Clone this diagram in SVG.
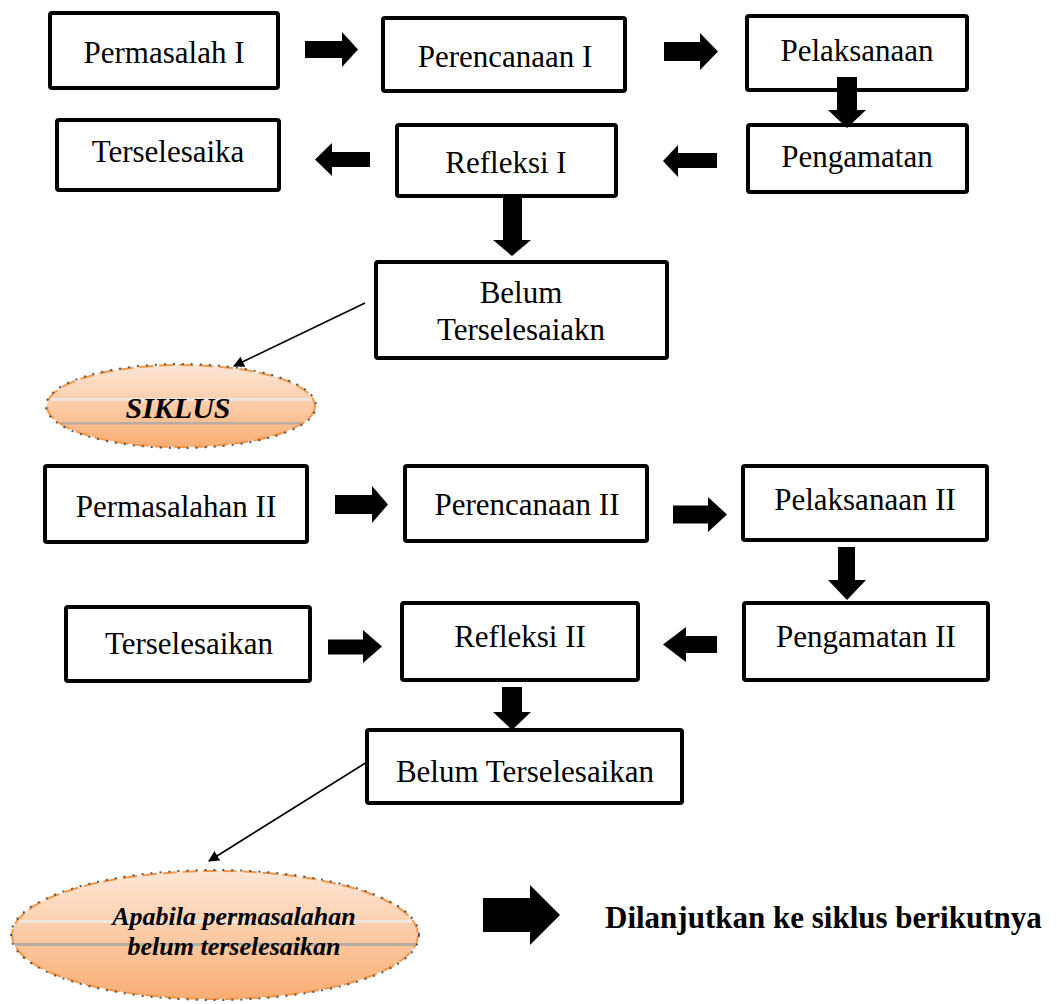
<svg xmlns="http://www.w3.org/2000/svg" width="1057" height="1004" viewBox="0 0 1057 1004">
<style>
.box{fill:#fff;stroke:#000;stroke-width:4}
.t{font-family:"Liberation Serif","Times New Roman",serif;font-size:31px;text-anchor:middle;fill:#000}
.bi{font-family:"Liberation Serif","Times New Roman",serif;font-weight:bold;font-style:italic;text-anchor:middle;fill:#000}
.b{font-family:"Liberation Serif","Times New Roman",serif;font-weight:bold;font-size:31px;fill:#000}
.blk{fill:#000}
.ln{stroke:#000;stroke-width:1.6;fill:none}
.oval{fill:url(#og)}
.ovs{fill:none;stroke:#f79646;stroke-width:2;stroke-dasharray:14 6}
.ovd{fill:none;stroke:#555;stroke-width:2;stroke-dasharray:2 7}
</style>
<defs>
<linearGradient id="og" x1="0" y1="0" x2="0" y2="1">
<stop offset="0" stop-color="#fde6d6"/>
<stop offset="0.5" stop-color="#fccba6"/>
<stop offset="1" stop-color="#f8ad72"/>
</linearGradient>
<marker id="ah" viewBox="0 0 10 10" refX="9" refY="5" markerWidth="11" markerHeight="11" markerUnits="userSpaceOnUse" orient="auto">
<path d="M0,0 L10,5 L0,10 z" fill="#000"/>
</marker>
<clipPath id="c1"><ellipse cx="181" cy="406" rx="134" ry="41"/></clipPath>
<clipPath id="c2"><ellipse cx="215" cy="935" rx="203" ry="64"/></clipPath>
</defs>

<g id="n-permasalah1"><rect class="box" x="50" y="13" width="228" height="75" rx="2"/><text class="t" x="164" y="63">Permasalah I</text></g>
<g id="n-perencanaan1"><rect class="box" x="383" y="18" width="242" height="73" rx="2"/><text class="t" x="505" y="67">Perencanaan I</text></g>
<g id="n-pelaksanaan1"><rect class="box" x="747" y="16" width="220" height="74" rx="2"/><text class="t" x="857" y="61">Pelaksanaan</text></g>
<g id="n-terselesaika"><rect class="box" x="57" y="120" width="222" height="70" rx="2"/><text class="t" x="168" y="162">Terselesaika</text></g>
<g id="n-refleksi1"><rect class="box" x="397" y="125" width="219" height="71" rx="2"/><text class="t" x="506" y="173">Refleksi I</text></g>
<g id="n-pengamatan1"><rect class="box" x="748" y="125" width="219" height="67" rx="2"/><text class="t" x="857" y="167">Pengamatan</text></g>
<g id="n-belum1"><rect class="box" x="376" y="262" width="291" height="96" rx="2"/><text class="t" x="521" y="303">Belum</text><text class="t" x="521" y="340">Terselesaiakn</text></g>

<g id="n-siklus">
<ellipse class="oval" cx="181" cy="406" rx="134" ry="41"/>
<g clip-path="url(#c1)"><rect x="40" y="398" width="290" height="3" fill="#efe6e0"/><rect x="40" y="422" width="290" height="2.5" fill="#b5aca6"/></g>
<ellipse class="ovs" cx="181" cy="406" rx="134" ry="41"/>
<ellipse class="ovd" cx="181" cy="406" rx="135" ry="42" stroke-dashoffset="3"/>
<text class="bi" x="178" y="418" font-size="30">SIKLUS</text>
</g>

<g id="n-permasalahan2"><rect class="box" x="45" y="466" width="262" height="76" rx="2"/><text class="t" x="176" y="517">Permasalahan II</text></g>
<g id="n-perencanaan2"><rect class="box" x="405" y="466" width="242" height="75" rx="2"/><text class="t" x="527" y="515">Perencanaan II</text></g>
<g id="n-pelaksanaan2"><rect class="box" x="743" y="466" width="244" height="74" rx="2"/><text class="t" x="865" y="510">Pelaksanaan II</text></g>
<g id="n-terselesaikan"><rect class="box" x="66" y="607" width="244" height="74" rx="2"/><text class="t" x="189" y="654">Terselesaikan</text></g>
<g id="n-refleksi2"><rect class="box" x="402" y="603" width="236" height="77" rx="2"/><text class="t" x="520" y="647">Refleksi II</text></g>
<g id="n-pengamatan2"><rect class="box" x="744" y="603" width="244" height="77" rx="2"/><text class="t" x="866" y="647">Pengamatan II</text></g>
<g id="n-belum2"><rect class="box" x="367" y="730" width="315" height="73" rx="2"/><text class="t" x="525" y="782">Belum Terselesaikan</text></g>

<g id="n-apabila">
<ellipse class="oval" cx="215" cy="935" rx="203" ry="64"/>
<g clip-path="url(#c2)"><rect x="10" y="920" width="420" height="3" fill="#efe6e0"/><rect x="10" y="943" width="420" height="3" fill="#b5aca6"/></g>
<ellipse class="ovs" cx="215" cy="935" rx="203" ry="64"/>
<ellipse class="ovd" cx="215" cy="935" rx="204" ry="65" stroke-dasharray="3 4"/>
<text class="bi" x="234" y="925" font-size="26">Apabila permasalahan</text>
<text class="bi" x="234" y="955" font-size="26">belum terselesaikan</text>
</g>

<g id="n-dilanjutkan">
<text class="b" x="605" y="928">Dilanjutkan ke siklus berikutnya</text>
</g>

<g id="connectors">
<path class="blk" d="M305,41 H342 V32 L358,49.5 L342,67 V58 H305 Z"/>
<path class="blk" d="M664,42 H700 V33 L718,51.5 L700,70 V61 H664 Z"/>
<path class="blk" d="M837,77 H857 V110 H866 L847,128 L828,110 H837 Z"/>
<path class="blk" d="M370,152 H332 V143 L315,159.5 L332,176 V167 H370 Z"/>
<path class="blk" d="M717,153 H678 V145 L663,161 L678,177 V168 H717 Z"/>
<path class="blk" d="M503,196 H522 V240 H531 L512,256 L493,240 H503 Z"/>
<path class="ln" d="M365,303 L234,366" marker-end="url(#ah)"/>
<path class="blk" d="M335,495 H372 V486 L388,504.5 L372,523 V514 H335 Z"/>
<path class="blk" d="M673,505.5 H708 V497 L727,514.5 L708,532 V523.5 H673 Z"/>
<path class="blk" d="M838,547 H855 V580 H866 L847,600 L828,580 H838 Z"/>
<path class="blk" d="M328,639.5 H363 V630 L382,646.5 L363,663 V654.5 H328 Z"/>
<path class="blk" d="M717,636 H686 V627 L663,644.5 L686,662 V653 H717 Z"/>
<path class="blk" d="M502,687 H522 V712 H531 L512,730 L493,712 H502 Z"/>
<path class="ln" d="M367,762 L209,861" marker-end="url(#ah)"/>
<path class="blk" d="M483,898 H530 V885 L560,915 L530,945 V932 H483 Z"/>
</g>
</svg>
